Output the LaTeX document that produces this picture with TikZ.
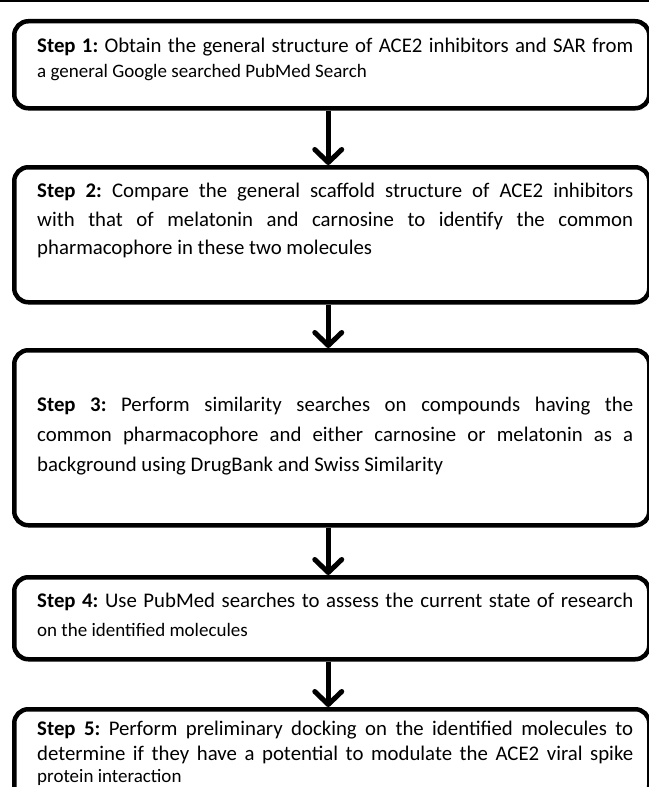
\documentclass[tikz,border=0pt]{standalone}
\usepackage{fontspec}
\setmainfont{Carlito}
\usetikzlibrary{arrows.meta,calc}
\newcommand{\lightline}[2]{{\parfillskip=0pt\par}{\fontsize{19bp}{#1}\selectfont#2\par}}
\tikzset{
  stepbox/.style={draw=black, line width=4.5bp, rounded corners=14bp, fill=white,
    minimum width=635bp, inner sep=0pt, anchor=north west},
  steptext/.style={text width=596bp, align=justify, inner sep=0pt, anchor=north west,
    font=\frenchspacing\fontsize{20.8bp}{#1}\selectfont},
  steptext/.default={28bp},
  flow/.style={line width=4.5bp, -{Straight Barb[length=13bp,width=27bp,line width=5bp,round]}}
}
\begin{document}
\begin{tikzpicture}[x=1bp,y=1bp]
\useasboundingbox (0,0) rectangle (649,-787);
\fill[white] (0,0) rectangle (649,-787);
\coordinate (tl) at (0,-1.5);
\coordinate (tr) at (649,-1.5);
\draw[line width=2bp] (tl) -- (tr);

\node[stepbox, minimum height=87bp] (b1) at (12,-19) {};
\node[stepbox, minimum height=135bp] (b2) at (12,-165) {};
\node[stepbox, minimum height=175bp] (b3) at (12,-348) {};
\node[stepbox, minimum height=82bp] (b4) at (12,-575) {};
\node[stepbox, minimum height=90bp] (b5) at (12,-707) {};

\node[steptext=24bp] (t1) at (37,-38) {\textbf{Step 1:} Obtain the general structure of ACE2 inhibitors and SAR from\lightline{25bp}{a general Google searched PubMed Search}};
\node[steptext=28.5bp] (t2) at (37,-183) {\textbf{Step 2:} Compare the general scaffold structure of ACE2 inhibitors\linebreak with that of melatonin and carnosine to identify the common\linebreak pharmacophore in these two molecules};
\node[steptext=30bp] (t3) at (37,-397) {\textbf{Step 3:} Perform similarity searches on compounds having the\linebreak common pharmacophore and either carnosine or melatonin as a\linebreak background using DrugBank and Swiss Similarity};
\node[steptext] (t4) at (37,-593) {\textbf{Step 4:} Use PubMed searches to assess the current state of research\lightline{29bp}{on the identified molecules}};
\node[steptext=25bp] (t5) at (37,-721) {\textbf{Step 5:} Perform preliminary docking on the identified molecules to\linebreak determine if they have a potential to modulate the ACE2 viral spike\lightline{22bp}{protein interaction}};

\draw[flow] ([xshift=-3.5bp]b1.south) -- ([xshift=-3.5bp]b2.north);
\draw[flow] ([xshift=-3.5bp]b2.south) -- ([xshift=-3.5bp]b3.north);
\draw[flow] ([xshift=-3.5bp]b3.south) -- ([xshift=-3.5bp]b4.north);
\draw[flow] ([xshift=-3.5bp]b4.south) -- ([xshift=-3.5bp]b5.north);
\end{tikzpicture}
\end{document}
